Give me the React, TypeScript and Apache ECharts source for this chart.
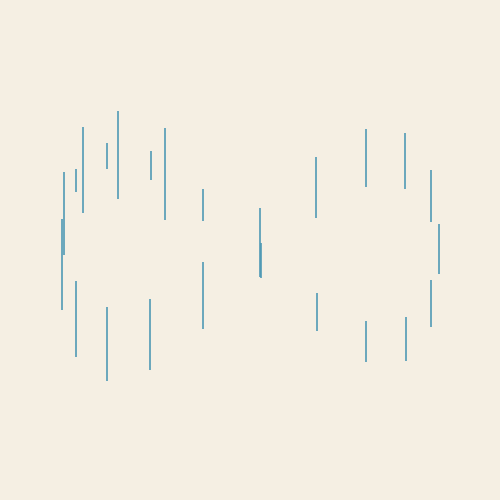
import { useEffect, useRef } from "react";
import * as echarts from "echarts";

// each segment: x position, top and bottom (y axis runs downward)
const xs = [64, 62, 76, 83, 107, 118, 151, 165, 203, 76, 107, 150, 203, 260, 261, 316, 366, 405, 431, 439, 431, 406, 366, 317];
const tops = [172, 219, 169, 127, 143, 111, 151, 128, 189, 281, 307, 299, 262, 208, 243, 157, 129, 133, 170, 224, 280, 317, 321, 293];
const bottoms = [255, 310, 192, 213, 169, 199, 180, 220, 221, 357, 381, 370, 329, 277, 278, 218, 187, 189, 222, 274, 327, 361, 362, 331];

const BG = "#f5efe3";
const LINE = "#4a96b3";

export default function App() {
  const chartRef = useRef<HTMLDivElement>(null);

  useEffect(() => {
    document.body.style.margin = "0";
    document.body.style.background = BG;
    if (!chartRef.current) return;
    const chart = echarts.init(chartRef.current, null, { renderer: "svg" });

    const data = xs.map((x, i) => [x, tops[i], bottoms[i]]);

    chart.setOption({
      animation: false,
      backgroundColor: BG,
      grid: { left: 0, right: 0, top: 0, bottom: 0 },
      xAxis: { type: "value", min: 0, max: 500, show: false },
      yAxis: { type: "value", min: 0, max: 500, inverse: true, show: false },
      series: [
        {
          type: "custom",
          data,
          renderItem: (params: any, api: any) => {
            const a = api.coord([api.value(0), api.value(1)]);
            const b = api.coord([api.value(0), api.value(2)]);
            return {
              type: "line",
              shape: { x1: a[0], y1: a[1], x2: b[0], y2: b[1] },
              style: { stroke: LINE, lineWidth: 1.6 },
            };
          },
        },
      ],
    });

    return () => {
      chart.dispose();
    };
  }, []);

  return <div ref={chartRef} style={{ width: "500px", height: "500px" }}></div>;
}
